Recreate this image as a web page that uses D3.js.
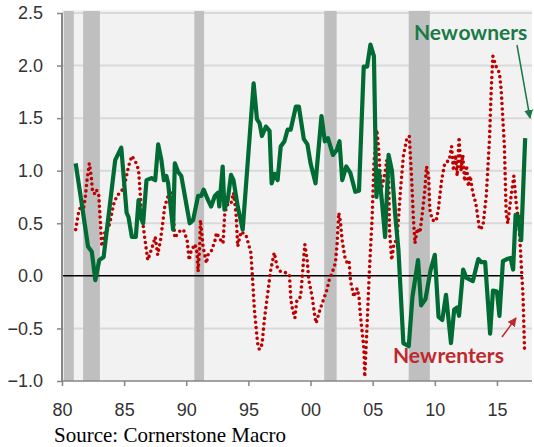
<!DOCTYPE html>
<html>
<head>
<meta charset="utf-8">
<script src="https://cdn.jsdelivr.net/npm/d3@7"></script>
<style>
  body { margin: 0; background: #fff; }
  svg { display: block; }
</style>
</head>
<body>
<div id="chart"></div>
<script>
var w = 534;
var h = 447;

// recession shading (start / end, decimal years)
var recessionStart = [1980.15, 1981.7, 1990.65, 2001.1, 2007.9];
var recessionEnd   = [1980.95, 1983.05, 1991.43, 2002.1, 2009.6];

// New owners (green line)
var ownerYears = [1981.1, 1981.66, 1982.09, 1982.4, 1982.68, 1983.0, 1983.35, 1984.28, 1984.77, 1985.2,
  1985.35, 1985.62, 1985.94, 1986.16, 1986.35, 1986.53, 1986.8, 1987.2, 1987.5, 1987.74,
  1988.0, 1988.2, 1988.4, 1988.54, 1988.94, 1989.08, 1989.34, 1989.6, 1990.28, 1990.55,
  1990.95, 1991.2, 1991.4, 1991.75, 1992.0, 1992.3, 1992.55, 1992.66, 1992.93, 1993.07,
  1993.33, 1993.6, 1993.8, 1994.14, 1994.54, 1995.42, 1995.69, 1995.9, 1996.09, 1996.41,
  1996.7, 1996.87, 1997.1, 1997.35, 1997.6, 1997.9, 1998.15, 1998.4, 1998.82, 1999.06,
  1999.46, 1999.75, 2000.0, 2000.4, 2000.88, 2001.15, 2001.4, 2001.8, 2002.12, 2002.33,
  2002.55, 2002.87, 2003.2, 2003.6, 2003.9, 2004.28, 2004.55, 2004.82, 2005.1, 2005.3,
  2005.5, 2005.75, 2006.0, 2006.28, 2006.55, 2006.8, 2007.07, 2007.47, 2007.9, 2008.2,
  2008.65, 2008.9, 2009.25, 2009.65, 2010.0, 2010.3, 2010.6, 2010.9, 2011.3, 2011.56,
  2011.8, 2011.95, 2012.28, 2012.55, 2013.06, 2013.5, 2013.75, 2014.05, 2014.45, 2014.68,
  2015.0, 2015.2, 2015.48, 2015.8, 2016.1, 2016.3, 2016.5, 2016.7, 2016.95, 2017.27];
var ownerValues = [1.07, 0.63, 0.28, 0.23, -0.04, 0.15, 0.18, 1.1, 1.22, 0.6,
  0.56, 0.37, 0.37, 0.72, 0.55, 0.5, 0.91, 0.93, 0.91, 1.25,
  1.1, 0.91, 0.95, 0.88, 0.44, 1.07, 0.99, 0.95, 0.5, 0.53,
  0.76, 0.76, 0.82, 0.72, 0.66, 0.76, 0.79, 0.66, 1.04, 0.63,
  0.72, 0.96, 0.91, 0.66, 0.44, 1.83, 1.49, 1.45, 1.33, 1.42,
  1.38, 0.88, 0.97, 0.91, 1.23, 1.28, 1.39, 1.39, 1.61, 1.61,
  1.3, 1.25, 1.07, 0.88, 1.52, 1.28, 1.31, 1.15, 1.2, 1.28,
  0.91, 1.04, 0.98, 0.8, 0.81, 1.99, 1.99, 2.2, 2.09, 0.75,
  1.0, 0.7, 0.37, 1.15, 1.0, 0.6, 0.25, -0.64, -0.67, -0.2,
  0.15, -0.28, -0.22, 0.05, 0.2, -0.39, -0.42, -0.18, -0.64, -0.32,
  -0.3, -0.38, 0.06, -0.02, -0.05, 0.16, 0.13, 0.13, -0.55, -0.14,
  -0.15, -0.38, 0.14, 0.16, 0.17, 0.06, 0.58, 0.57, 0.34, 1.31];

// New renters (red dotted line)
var renterYears = [1981.1, 1981.33, 1981.5, 1981.7, 1981.87, 1982.0, 1982.2, 1982.35, 1982.46, 1982.6,
  1982.75, 1982.95, 1983.08, 1983.2, 1983.5, 1983.7, 1983.88, 1984.15, 1984.42, 1984.87,
  1985.1, 1985.35, 1985.62, 1985.9, 1986.16, 1986.4, 1986.67, 1986.9, 1987.05, 1987.33,
  1987.5, 1987.7, 1987.93, 1988.1, 1988.27, 1988.54, 1988.8, 1988.94, 1989.08, 1989.3,
  1989.6, 1989.8, 1990.07, 1990.23, 1990.4, 1990.7, 1990.87, 1990.95, 1991.08, 1991.14,
  1991.2, 1991.35, 1991.62, 1991.75, 1992.0, 1992.3, 1992.43, 1992.7, 1992.96, 1993.1,
  1993.36, 1993.6, 1993.8, 1994.0, 1994.14, 1994.4, 1994.8, 1995.2, 1995.34, 1995.48,
  1995.74, 1995.88, 1996.1, 1996.28, 1996.55, 1996.8, 1997.08, 1997.2, 1997.35, 1997.6,
  1998.0, 1998.3, 1998.42, 1998.55, 1998.74, 1998.9, 1999.2, 1999.33, 1999.54, 1999.73,
  1999.86, 2000.13, 2000.35, 2000.45, 2000.66, 2000.88, 2001.33, 2001.47, 2001.74, 2002.0,
  2002.14, 2002.27, 2002.4, 2002.54, 2002.76, 2002.95, 2003.1, 2003.21, 2003.48, 2003.75,
  2003.9, 2004.0, 2004.3, 2004.36, 2004.5, 2004.74, 2004.96, 2005.1, 2005.33, 2005.45,
  2005.6, 2005.75, 2006.0, 2006.13, 2006.3, 2006.35, 2006.53, 2006.72, 2006.94, 2007.07,
  2007.26, 2007.47, 2007.74, 2007.95, 2008.14, 2008.27, 2008.4, 2008.6, 2008.8, 2009.0,
  2009.2, 2009.33, 2009.5, 2009.6, 2009.8, 2010.1, 2010.28, 2010.55, 2010.8, 2011.16,
  2011.35, 2011.5, 2011.65, 2011.8, 2011.95, 2012.1, 2012.25, 2012.4, 2012.55, 2012.7,
  2012.85, 2013.05, 2013.3, 2013.6, 2013.87, 2014.14, 2014.4, 2014.54, 2014.67, 2014.94,
  2015.2, 2015.34, 2015.6, 2015.74, 2015.87, 2016.14, 2016.36, 2016.55, 2016.7, 2016.8,
  2016.95, 2017.1, 2017.22];
var renterValues = [0.44, 0.6, 0.66, 0.62, 0.74, 0.9, 1.07, 0.95, 0.8, 0.78,
  0.82, 0.78, 0.53, 0.28, 0.44, 0.44, 0.52, 0.68, 0.76, 0.82,
  0.9, 1.04, 1.14, 1.09, 1.01, 0.6, 0.35, 0.15, 0.2, 0.3,
  0.37, 0.2, 0.34, 0.5, 0.66, 0.76, 0.79, 0.6, 0.36, 0.4,
  0.44, 0.43, 0.34, 0.15, 0.24, 0.3, 0.22, 0.04, 0.28, 0.53,
  0.46, 0.28, 0.12, 0.2, 0.23, 0.33, 0.41, 0.35, 0.31, 0.6,
  0.69, 0.69, 0.79, 0.6, 0.28, 0.42, 0.39, 0.22, -0.04, -0.32,
  -0.64, -0.7, -0.65, -0.42, -0.17, 0.06, 0.22, 0.15, 0.07, 0.04,
  0.03, 0.01, -0.23, -0.32, -0.4, -0.23, -0.2, -0.01, 0.3, 0.15,
  -0.04, -0.2, -0.39, -0.45, -0.36, -0.28, -0.13, -0.05, 0.03, 0.12,
  0.31, 0.6, 0.52, 0.34, 0.18, 0.12, 0.14, -0.04, -0.2, -0.12,
  -0.2, -0.36, -0.7, -0.96, -0.6, 0.06, 0.56, 1.07, 1.39, 1.25,
  0.98, 0.85, 0.98, 1.1, 0.87, 0.44, 0.15, 0.31, 0.34, 0.53,
  0.85, 1.14, 1.3, 1.33, 0.91, 0.56, 0.31, 0.45, 0.41, 0.6,
  0.82, 1.04, 0.95, 0.63, 0.53, 0.52, 0.63, 0.91, 1.07, 1.1,
  1.23, 1.0, 1.15, 0.95, 1.32, 1.0, 1.15, 0.9, 1.05, 0.85,
  0.95, 0.79, 0.69, 0.44, 0.47, 0.76, 1.3, 1.77, 2.09, 1.99,
  1.93, 1.77, 1.23, 0.6, 0.5, 0.76, 0.95, 0.69, 0.56, 0.44,
  0.12, -0.2, -0.7];

var yTicks = [-1.0, -0.5, 0.0, 0.5, 1.0, 1.5, 2.0, 2.5];
var xTicks = [1980, 1985, 1990, 1995, 2000, 2005, 2010, 2015];

var svg = d3.select("#chart")
            .append("svg")
            .attr("width", w)
            .attr("height", h);

var xScale = d3.scaleLinear()
        .domain([1980, 2017.82])
        .range([62, 532]);

var yScale = d3.scaleLinear()
        .domain([-1, 2.5])
        .range([381, 13]);

// plot background
svg.append("rect")
    .attr("x", 62)
    .attr("y", 10)
    .attr("width", 532 - 62)
    .attr("height", 381 - 10)
    .attr("fill", "#f2f2f2");

// gridlines
svg.append("g")
    .selectAll("line")
    .data(yTicks.filter(function(d) { return d !== 0 && d !== -1; }))
    .enter()
    .append("line")
    .attr("x1", 62)
    .attr("x2", 532)
    .attr("y1", function(d) { return yScale(d); })
    .attr("y2", function(d) { return yScale(d); })
    .attr("stroke", "#d9d9d9")
    .attr("stroke-width", 2);

// recession bars
svg.append("g")
    .selectAll("rect")
    .data(recessionStart)
    .enter()
    .append("rect")
    .attr("x", function(d) { return xScale(d); })
    .attr("y", 11)
    .attr("width", function(d, i) { return xScale(recessionEnd[i]) - xScale(d); })
    .attr("height", 381 - 11)
    .attr("fill", "#bfbfbf");

// zero line
svg.append("line")
    .attr("x1", 62)
    .attr("x2", 523)
    .attr("y1", yScale(0))
    .attr("y2", yScale(0))
    .attr("stroke", "#000")
    .attr("stroke-width", 1.5);

// axes
var yAxis = d3.axisLeft(yScale)
    .tickValues(yTicks)
    .tickSize(5)
    .tickPadding(14)
    .tickFormat(d3.format(".1f"));

var xAxis = d3.axisBottom(xScale)
    .tickValues(xTicks)
    .tickSize(5)
    .tickPadding(17)
    .tickFormat(function(d) { return d3.format("02d")(d % 100); });

var gy = svg.append("g")
    .attr("transform", "translate(62,0)")
    .call(yAxis);
gy.select(".domain").attr("d", "M0,13V381").attr("stroke", "#868686").attr("stroke-width", 2);

var gx = svg.append("g")
    .attr("transform", "translate(0,381)")
    .call(xAxis);
gx.select(".domain").attr("d", "M62,0H532").attr("stroke", "#868686").attr("stroke-width", 1.5);

[gx, gy].forEach(function(g) {
    g.selectAll(".tick line").attr("stroke", "#868686").attr("stroke-width", 1.5);
    g.selectAll("text")
        .attr("fill", "#333")
        .style("font-family", "'Liberation Sans', Arial, sans-serif")
        .style("font-size", "18px");
});
gy.selectAll(".tick line").filter(function(d) { return d === 0; }).remove();

// lines
var line = d3.line()
    .x(function(d) { return xScale(d[0]); })
    .y(function(d) { return yScale(d[1]); });

var renterData = renterYears.map(function(d, i) { return [d, renterValues[i]]; });
var ownerData = ownerYears.map(function(d, i) { return [d, ownerValues[i]]; });

svg.append("path")
    .datum(renterData)
    .attr("d", line)
    .attr("fill", "none")
    .attr("stroke", "#c00000")
    .attr("stroke-width", 3.6)
    .attr("stroke-linecap", "round")
    .attr("stroke-dasharray", "0 5.4");

svg.append("path")
    .datum(ownerData)
    .attr("d", line)
    .attr("fill", "none")
    .attr("stroke", "#006b33")
    .attr("stroke-width", 4.2)
    .attr("stroke-linejoin", "round");

// annotations
var defs = svg.append("defs");
[["arrowGreen", "#1a7a45"], ["arrowRed", "#c0282d"]].forEach(function(a) {
    defs.append("marker")
        .attr("id", a[0])
        .attr("viewBox", "0 0 10 10")
        .attr("refX", 9)
        .attr("refY", 5)
        .attr("markerWidth", 6)
        .attr("markerHeight", 6)
        .attr("orient", "auto")
        .append("path")
        .attr("d", "M0,0L10,5L0,10z")
        .attr("fill", a[1]);
});

svg.append("text")
    .attr("x", 414)
    .attr("y", 40)
    .attr("fill", "#1a7a45")
    .style("font-family", "Lato, 'Open Sans', sans-serif")
    .style("font-weight", "bold")
    .style("font-size", "21px")
    .style("word-spacing", "-4px")
    .text("New owners");

svg.append("line")
    .attr("x1", 517)
    .attr("y1", 45)
    .attr("x2", 530)
    .attr("y2", 118)
    .attr("stroke", "#1a7a45")
    .attr("stroke-width", 1.5)
    .attr("marker-end", "url(#arrowGreen)");

svg.append("text")
    .attr("x", 393)
    .attr("y", 363)
    .attr("fill", "#c0282d")
    .style("font-family", "Lato, 'Open Sans', sans-serif")
    .style("font-weight", "bold")
    .style("font-size", "21px")
    .style("word-spacing", "-4px")
    .text("New renters");

svg.append("line")
    .attr("x1", 502)
    .attr("y1", 337)
    .attr("x2", 516)
    .attr("y2", 318)
    .attr("stroke", "#c0282d")
    .attr("stroke-width", 1.5)
    .attr("marker-end", "url(#arrowRed)");

// source
svg.append("text")
    .attr("x", 54)
    .attr("y", 442)
    .attr("fill", "#000")
    .style("font-family", "'Liberation Serif', 'Times New Roman', serif")
    .style("font-size", "21px")
    .text("Source: Cornerstone Macro");
</script>
</body>
</html>
